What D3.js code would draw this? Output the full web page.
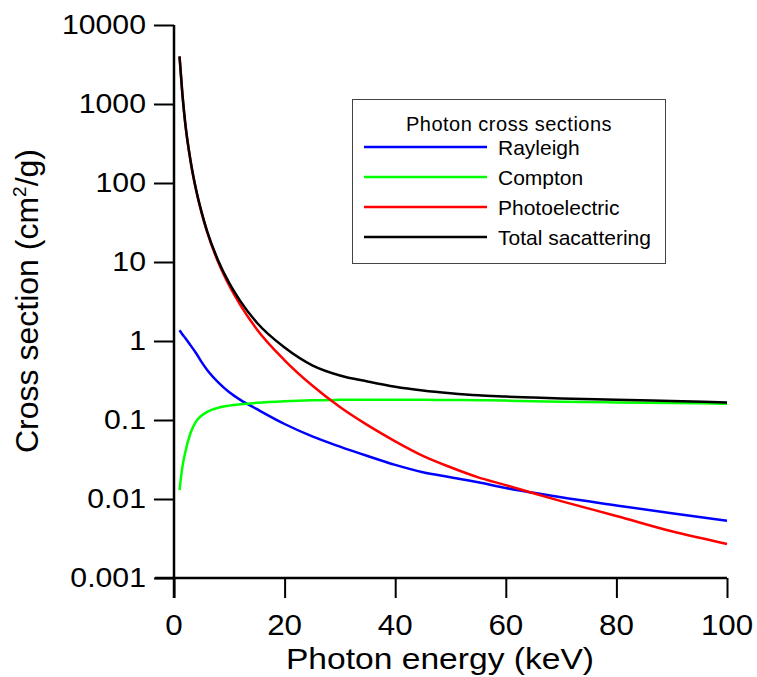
<!DOCTYPE html>
<html>
<head>
<meta charset="utf-8">
<script src="https://cdn.jsdelivr.net/npm/d3@7"></script>
<style>
  html, body { margin: 0; padding: 0; background: #fff; }
  svg { display: block; font-family: "Liberation Sans", Arial, sans-serif; }
</style>
</head>
<body>
<svg id="chart" width="757" height="677"></svg>
<script>
// Photon energy grid (keV)
const energy = [1, 1.5, 2, 3, 4, 5, 6, 8, 10, 12, 15, 20, 25, 30, 35, 40, 45, 50, 55, 60, 65, 70, 80, 90, 100];

// Mass cross sections (cm²/g) for each process
const rayleigh = [1.37, 1.22, 1.10, 0.88, 0.70, 0.54, 0.43, 0.30, 0.225, 0.18, 0.137, 0.089, 0.062, 0.046, 0.035, 0.027, 0.0218, 0.0189, 0.0163, 0.0138, 0.0120, 0.0105, 0.0083, 0.0066, 0.0053];
const compton = [0.013, 0.025, 0.038, 0.069, 0.096, 0.114, 0.127, 0.143, 0.152, 0.158, 0.165, 0.173, 0.178, 0.180, 0.181, 0.181, 0.180, 0.179, 0.178, 0.176, 0.173, 0.170, 0.167, 0.164, 0.161];
const photoelectric = [3990, 1375, 598, 188, 81, 41.5, 23.8, 9.9, 5.0, 2.85, 1.40, 0.57, 0.273, 0.146, 0.086, 0.0536, 0.0351, 0.0252, 0.0188, 0.0150, 0.0118, 0.0094, 0.0061, 0.0039, 0.0027];
const total = [4000, 1380, 600, 190, 82, 42.5, 24.5, 10.4, 5.4, 3.2, 1.70, 0.826, 0.492, 0.366, 0.307, 0.263, 0.236, 0.218, 0.205, 0.198, 0.192, 0.187, 0.181, 0.174, 0.167];

const seriesNames = ["Rayleigh", "Compton", "Photoelectric", "Total sacattering"];
const seriesColors = ["#0000ff", "#00ff00", "#ff0000", "#000000"];
const seriesValues = [rayleigh, compton, photoelectric, total];

const xTicks = [0, 20, 40, 60, 80, 100];
const xMinorTicks = [10, 30, 50, 70, 90];
const yTicks = [0.001, 0.01, 0.1, 1, 10, 100, 1000, 10000];
const yTickLabels = ["0.001", "0.01", "0.1", "1", "10", "100", "1000", "10000"];

const svg = d3.select("#chart");

const x = d3.scaleLinear().domain([0, 100]).range([174, 727]);
const y = d3.scaleLog().domain([0.001, 10000]).range([578, 25]);

// minor ticks on the log axis: 2..9 within each decade
const yMinor = [];
for (let d = -3; d < 4; d++) {
  for (let m = 2; m <= 9; m++) yMinor.push(m * Math.pow(10, d));
}

const axisColor = "#000";

// Y axis
const yAxisMajor = d3.axisLeft(y).tickValues(yTicks).tickSize(20).tickFormat(() => "");
const yAxisMinor = d3.axisLeft(y).tickValues(yMinor).tickSize(12).tickFormat(() => "");
const gy = svg.append("g").attr("transform", "translate(174,0)");
gy.call(yAxisMinor);
gy.call(yAxisMajor);
gy.selectAll(".domain").remove();
gy.selectAll(".tick line").attr("stroke", axisColor).attr("stroke-width", 2);

// X axis
const xAxisMajor = d3.axisBottom(x).tickValues(xTicks).tickSize(20).tickFormat(() => "");
const xAxisMinor = d3.axisBottom(x).tickValues(xMinorTicks).tickSize(12).tickFormat(() => "");
const gx = svg.append("g").attr("transform", "translate(0,578)");
gx.call(xAxisMinor);
gx.call(xAxisMajor);
gx.selectAll(".domain").remove();
gx.selectAll(".tick line").attr("stroke", axisColor).attr("stroke-width", 2);

// Axis lines, crossing with overhang
svg.append("line").attr("x1", 174).attr("x2", 174).attr("y1", y(10000)).attr("y2", 598)
  .attr("stroke", axisColor).attr("stroke-width", 2.5);
svg.append("line").attr("x1", 155).attr("x2", x(100)).attr("y1", 578).attr("y2", 578)
  .attr("stroke", axisColor).attr("stroke-width", 2.5);

// Tick labels
svg.append("g").selectAll("text").data(yTicks).join("text")
  .attr("transform", d => `translate(146,${y(d)}) scale(1.12,1)`)
  .attr("dy", "0.35em")
  .attr("text-anchor", "end")
  .attr("font-size", 27)
  .attr("fill", "#000")
  .text((d, i) => yTickLabels[i]);

svg.append("g").selectAll("text").data(xTicks).join("text")
  .attr("transform", d => `translate(${x(d)},635) scale(1.08,1)`)
  .attr("text-anchor", "middle")
  .attr("font-size", 29)
  .attr("fill", "#000")
  .text(d => d);

// Axis titles
svg.append("text")
  .attr("transform", `translate(440,669) scale(1.12,1)`)
  .attr("text-anchor", "middle")
  .attr("font-size", 30)
  .attr("fill", "#000")
  .text("Photon energy (keV)");

const yTitle = svg.append("text")
  .attr("transform", `translate(38,301) rotate(-90)`)
  .attr("text-anchor", "middle")
  .attr("font-size", 32)
  .attr("fill", "#000");
yTitle.append("tspan").text("Cross section (cm");
yTitle.append("tspan").attr("font-size", 19).attr("dy", -12).text("2");
yTitle.append("tspan").attr("dy", 12).text("/g)");

// Curves
const line = d3.line()
  .x(d => x(d[0]))
  .y(d => y(d[1]))
  .curve(d3.curveMonotoneX);

seriesValues.forEach((vals, i) => {
  svg.append("path")
    .datum(energy.map((e, k) => [e, vals[k]]))
    .attr("fill", "none")
    .attr("stroke", seriesColors[i])
    .attr("stroke-width", 2.5)
    .attr("stroke-linejoin", "round")
    .attr("d", line);
});

// Legend
const legend = svg.append("g");
legend.append("rect")
  .attr("x", 352.5).attr("y", 99.5).attr("width", 313).attr("height", 164)
  .attr("fill", "#fff").attr("stroke", "#444").attr("stroke-width", 1);
legend.append("text")
  .attr("x", 509).attr("y", 131)
  .attr("text-anchor", "middle")
  .attr("font-size", 20)
  .attr("letter-spacing", 0.5)
  .attr("fill", "#000")
  .text("Photon cross sections");

const legendRows = d3.range(seriesNames.length);
legend.selectAll(".row").data(legendRows).join("g")
  .attr("class", "row")
  .attr("transform", d => `translate(0,${147 + d * 30})`)
  .each(function(d) {
    const g = d3.select(this);
    g.append("line").attr("x1", 364).attr("x2", 487).attr("y1", 0).attr("y2", 0)
      .attr("stroke", seriesColors[d]).attr("stroke-width", 2.5);
    g.append("text").attr("x", 498).attr("y", 8)
      .attr("font-size", 21).attr("fill", "#000")
      .text(seriesNames[d]);
  });
</script>
</body>
</html>
